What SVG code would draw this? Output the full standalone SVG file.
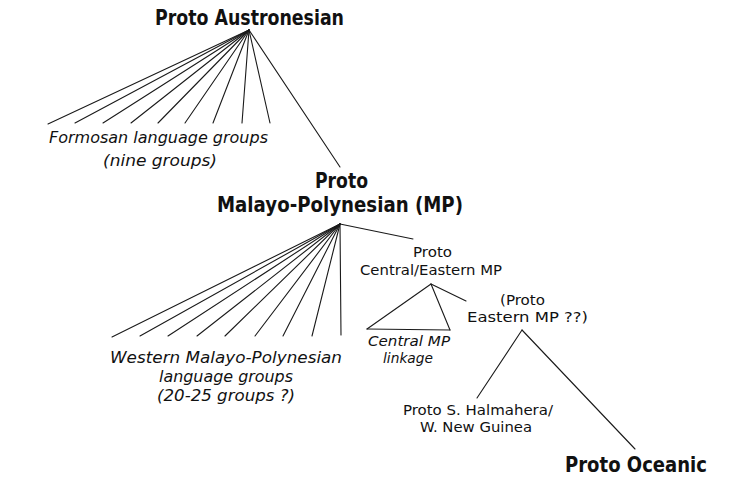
<svg xmlns="http://www.w3.org/2000/svg" width="748" height="490" viewBox="0 0 748 490">
<style>
text{font-family:"DejaVu Sans","Liberation Sans",sans-serif;fill:#111}
.b{font-weight:bold}
.i{font-style:italic}
.t{font-size:20.5px}
.m{font-size:16px}
.s{font-size:14px}
line{stroke:#1a1a1a;stroke-width:1.1;stroke-linecap:round}
</style>
<rect width="748" height="490" fill="#fff"/>
<g id="connectors">
  <line x1="249" y1="30" x2="48" y2="124"/>
  <line x1="249" y1="30" x2="75" y2="123"/>
  <line x1="249" y1="30" x2="103" y2="123"/>
  <line x1="249" y1="30" x2="131" y2="123"/>
  <line x1="249" y1="30" x2="158" y2="123"/>
  <line x1="249" y1="30" x2="185" y2="123"/>
  <line x1="249" y1="30" x2="213" y2="123"/>
  <line x1="249" y1="30" x2="242" y2="123"/>
  <line x1="249" y1="30" x2="270" y2="123"/>
  <line x1="249" y1="30" x2="340" y2="167"/>
  <line x1="340" y1="224" x2="112" y2="337"/>
  <line x1="340" y1="224" x2="140" y2="336"/>
  <line x1="340" y1="224" x2="168" y2="336"/>
  <line x1="340" y1="224" x2="197" y2="336"/>
  <line x1="340" y1="224" x2="225" y2="336"/>
  <line x1="340" y1="224" x2="255" y2="336"/>
  <line x1="340" y1="224" x2="283" y2="336"/>
  <line x1="340" y1="224" x2="312" y2="336"/>
  <line x1="340" y1="224" x2="341" y2="335"/>
  <line x1="340" y1="224" x2="413" y2="239"/>
  <line x1="431" y1="284" x2="367" y2="329"/>
  <line x1="431" y1="284" x2="450" y2="330"/>
  <line x1="367" y1="329" x2="450" y2="330"/>
  <line x1="431" y1="284" x2="466" y2="301"/>
  <line x1="522" y1="330" x2="477" y2="398"/>
  <line x1="522" y1="330" x2="635" y2="449"/>
</g>
<g id="proto-austronesian">
  <text class="b t" x="155" y="25" textLength="189" lengthAdjust="spacingAndGlyphs">Proto Austronesian</text>
</g>
<g id="formosan">
  <text class="i m" x="49" y="143" textLength="219" lengthAdjust="spacingAndGlyphs">Formosan language groups</text>
  <text class="i m" x="103" y="166" textLength="114" lengthAdjust="spacingAndGlyphs">(nine groups)</text>
</g>
<g id="proto-mp">
  <text class="b t" x="315" y="188" textLength="53" lengthAdjust="spacingAndGlyphs">Proto</text>
  <text class="b t" x="217" y="212" textLength="246" lengthAdjust="spacingAndGlyphs">Malayo-Polynesian (MP)</text>
</g>
<g id="western-mp">
  <text class="i m" x="110" y="363" textLength="232" lengthAdjust="spacingAndGlyphs">Western Malayo-Polynesian</text>
  <text class="i m" x="159" y="382" textLength="134" lengthAdjust="spacingAndGlyphs">language groups</text>
  <text class="i m" x="157" y="401" textLength="138" lengthAdjust="spacingAndGlyphs">(20-25 groups ?)</text>
</g>
<g id="proto-central-eastern">
  <text class="s" x="413" y="257" textLength="39" lengthAdjust="spacingAndGlyphs">Proto</text>
  <text class="s" x="360" y="275" textLength="142" lengthAdjust="spacingAndGlyphs">Central/Eastern MP</text>
</g>
<g id="central-mp-linkage">
  <text class="i s" x="368" y="346" textLength="82" lengthAdjust="spacingAndGlyphs">Central MP</text>
  <text class="i s" x="383" y="363" textLength="50" lengthAdjust="spacingAndGlyphs">linkage</text>
</g>
<g id="proto-eastern">
  <text class="s" x="500" y="305" textLength="45" lengthAdjust="spacingAndGlyphs">(Proto</text>
  <text class="s" x="467" y="322" textLength="121" lengthAdjust="spacingAndGlyphs">Eastern MP ??)</text>
</g>
<g id="halmahera">
  <text class="s" x="403" y="415" textLength="150" lengthAdjust="spacingAndGlyphs">Proto S. Halmahera/</text>
  <text class="s" x="420" y="432" textLength="112" lengthAdjust="spacingAndGlyphs">W. New Guinea</text>
</g>
<g id="proto-oceanic">
  <text class="b t" x="565" y="472" textLength="142" lengthAdjust="spacingAndGlyphs">Proto Oceanic</text>
</g>
</svg>
